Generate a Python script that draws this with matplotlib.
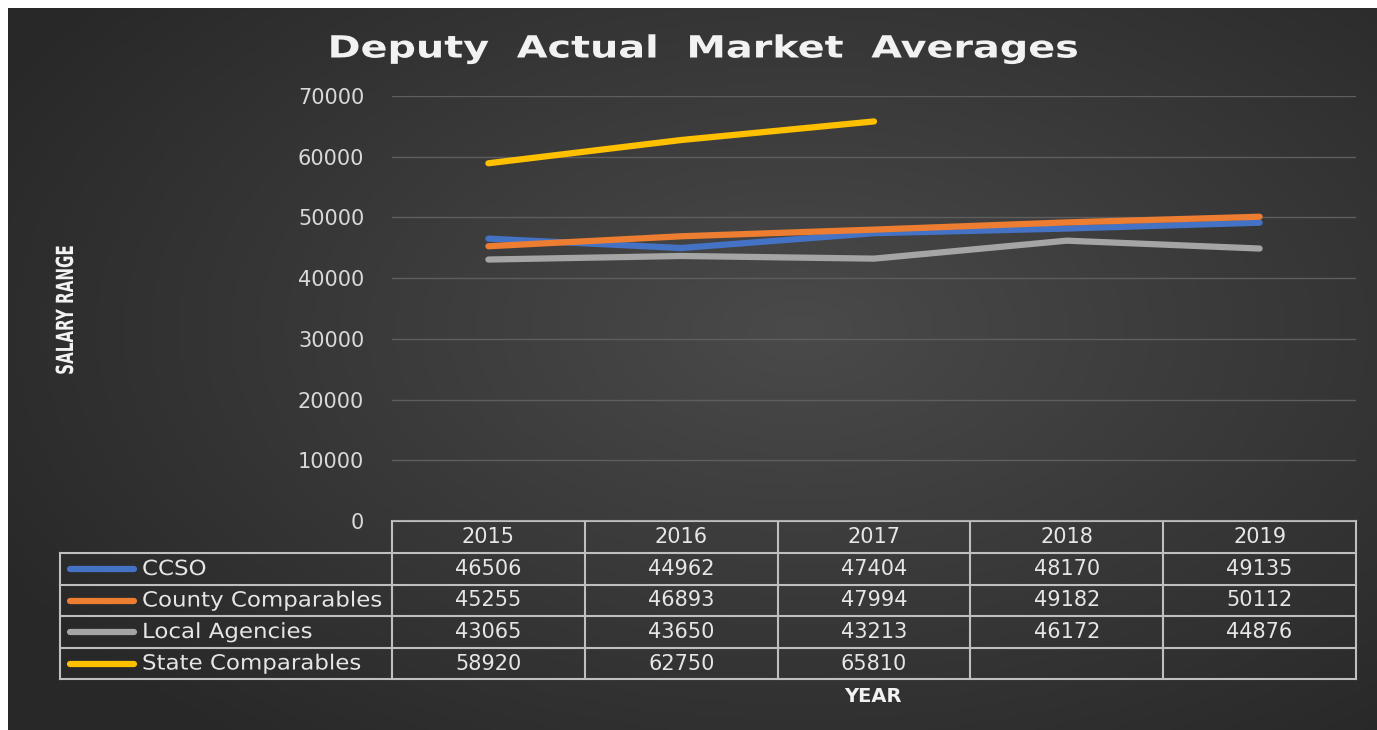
import numpy as np
import matplotlib.pyplot as plt
from matplotlib import patheffects as pe
from matplotlib.transforms import Affine2D

# chart data
years = ['2015', '2016', '2017', '2018', '2019']
names = ['CCSO', 'County Comparables', 'Local Agencies', 'State Comparables']
ccso = [46506, 44962, 47404, 48170, 49135]
county = [45255, 46893, 47994, 49182, 50112]
local = [43065, 43650, 43213, 46172, 44876]
state = [58920, 62750, 65810, np.nan, np.nan]
colors = ['#4472C4', '#ED7D31', '#A5A5A5', '#FFC000']
series = [ccso, county, local, state]

W, H = 1377, 730


# stretches/condenses drawn text around a point (display pixels, y up)
class Stretch(pe.AbstractPathEffect):
    def __init__(self, sx=1.0, sy=1.0, cx=0.0, cy=0.0):
        super().__init__()
        self.sx, self.sy, self.cx, self.cy = sx, sy, cx, cy

    def draw_path(self, renderer, gc, tpath, affine, rgbFace=None):
        t = affine + Affine2D().translate(-self.cx, -self.cy).scale(self.sx, self.sy).translate(self.cx, self.cy)
        renderer.draw_path(gc, tpath, t, rgbFace)


fig = plt.figure(figsize=(W / 100, H / 100), dpi=100, facecolor='white')

# background panel with a soft radial gradient, in pixel coords (y up)
bg = fig.add_axes([0, 0, 1, 1])
bg.set_xlim(0, W)
bg.set_ylim(0, H)
bg.axis('off')
gx, gy = np.meshgrid(np.linspace(8, W, 400), np.linspace(0, H - 8, 220))
r = np.sqrt(((gx - 800) / 900) ** 2 + ((gy - 400) / 520) ** 2)
r = np.clip(r, 0, 1)
shade = 0.29 * (1 - r) + 0.16 * r
bg.imshow(np.dstack([shade, shade, shade]), extent=[8, W, 0, H - 8],
          origin='lower', aspect='auto', zorder=0)


def py(y):
    return H - y


# plot area
left, right, top, zero = 392, 1356, 96, 521
ax = fig.add_axes([left / W, py(zero) / H, (right - left) / W, (zero - top) / H])
ax.set_facecolor('none')
ax.set_xlim(-0.5, len(years) - 0.5)
ax.set_ylim(0, 70000)
ax.set_yticks(range(0, 70001, 10000))
ax.set_xticks([])
ax.tick_params(axis='y', length=0, pad=20, labelcolor='#d9d9d9', labelsize=15)
for s in ax.spines.values():
    s.set_visible(False)
ax.yaxis.grid(True, color='#5e5e5e', lw=1)
ax.set_axisbelow(True)

x = np.arange(len(years))
for vals, c in zip(series, colors):
    ax.plot(x, vals, color=c, lw=4.5, solid_capstyle='round', zorder=3)

fig.text(702 / W, py(49) / H, 'Deputy  Actual  Market  Averages', ha='center', va='center',
         color='#f2f2f2', fontsize=22, fontweight='bold', family='DejaVu Sans',
         path_effects=[Stretch(sx=1.3, cx=702)])
fig.text(66 / W, py(310) / H, 'SALARY RANGE', rotation=90, ha='center', va='center',
         color='#f2f2f2', fontsize=17, fontweight='bold', family='DejaVu Sans',
         path_effects=[Stretch(sy=0.64, cy=py(310))])
fig.text(873 / W, py(696) / H, 'YEAR', ha='center', va='center',
         color='#f2f2f2', fontsize=14, fontweight='bold', family='DejaVu Sans')

# data table under the plot
line_c = '#bfbfbf'
leg_left = 60
col_w = (right - left) / len(years)
row_y = [521, 553, 585, 616, 648, 679]
tk = dict(color=line_c, lw=1.5, zorder=2)
bg.plot([left, right], [py(row_y[0])] * 2, **tk)
for y in row_y[1:]:
    bg.plot([leg_left, right], [py(y)] * 2, **tk)
bg.plot([leg_left, leg_left], [py(row_y[1]), py(row_y[-1])], **tk)
for i in range(len(years) + 1):
    xx = left + i * col_w
    bg.plot([xx, xx], [py(row_y[0]), py(row_y[-1])], **tk)

txt = dict(color='#e6e6e6', fontsize=15, ha='center', va='center', zorder=3)
for i, yr in enumerate(years):
    bg.text(left + (i + 0.5) * col_w, py((row_y[0] + row_y[1]) / 2), yr, **txt)
for j, (name, vals, c) in enumerate(zip(names, series, colors)):
    yc = py((row_y[j + 1] + row_y[j + 2]) / 2)
    bg.plot([70, 134], [yc, yc], color=c, lw=4.5, solid_capstyle='round', zorder=3)
    bg.text(142, yc, name, color='#e6e6e6', fontsize=15, ha='left', va='center', zorder=3,
            path_effects=[Stretch(sx=1.1, cx=142)])
    for i, v in enumerate(vals):
        if not np.isnan(v):
            bg.text(left + (i + 0.5) * col_w, yc, str(int(v)), **txt)

fig.savefig('out.png', dpi=100, facecolor='white')
